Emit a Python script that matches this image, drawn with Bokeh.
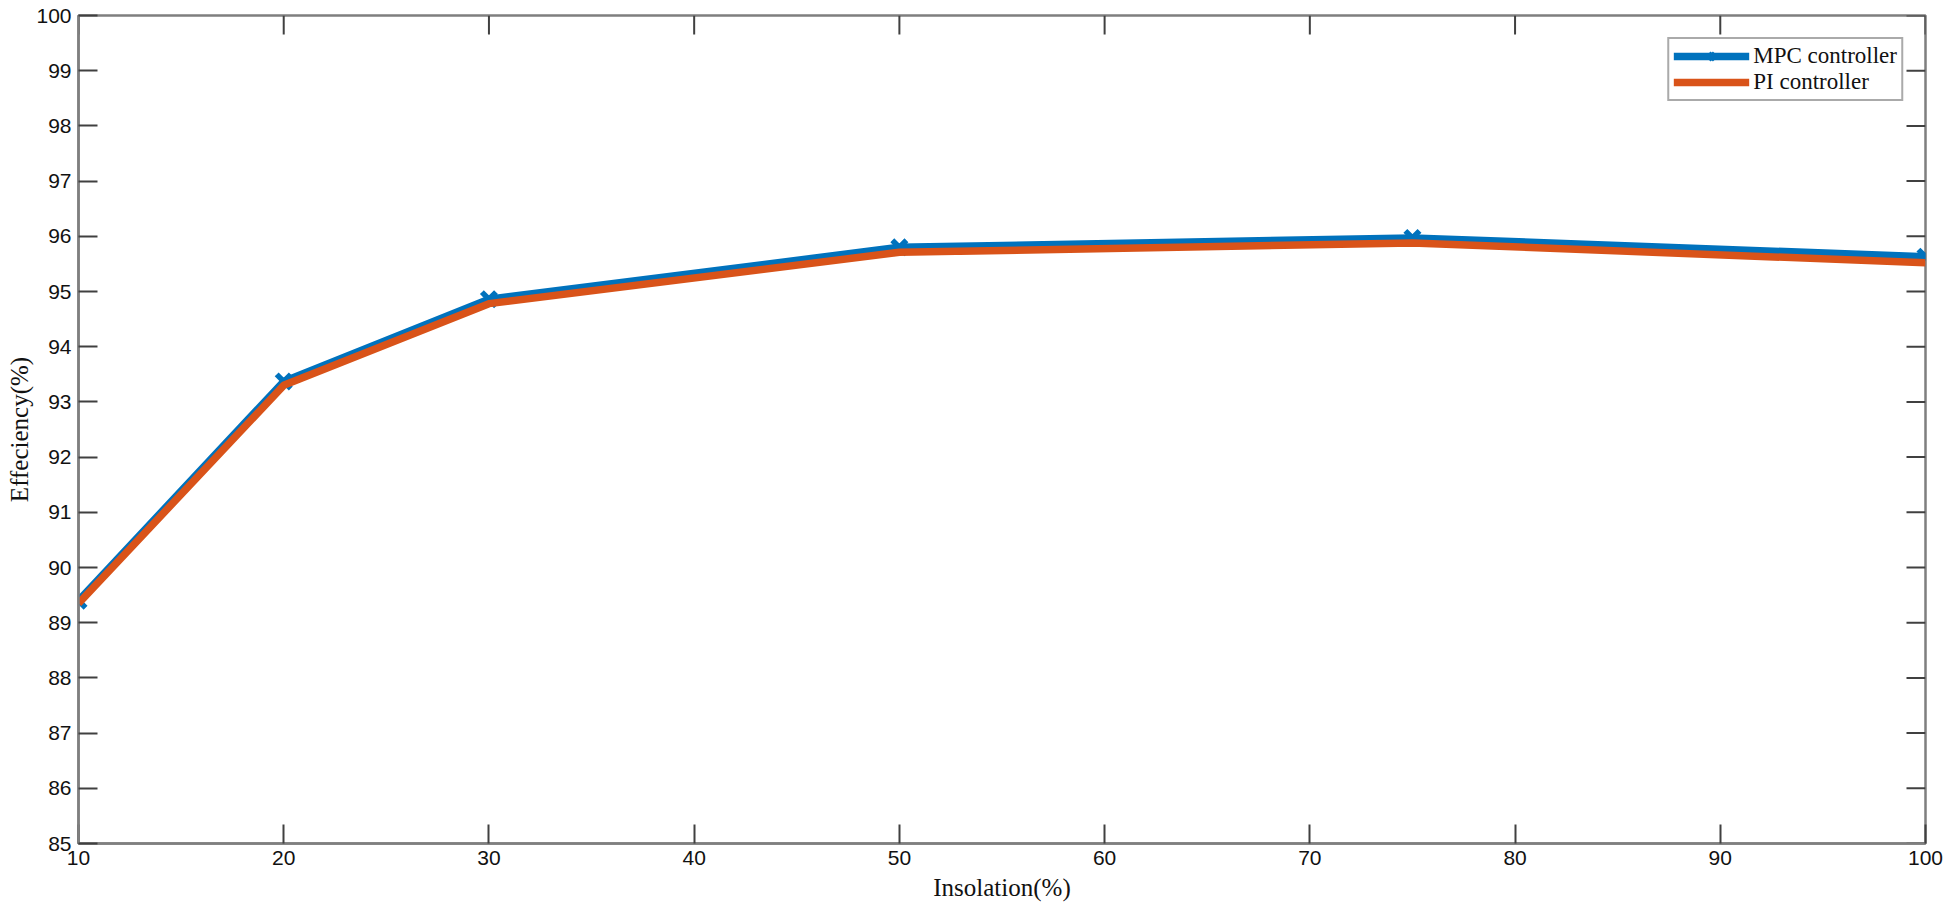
import math
from bokeh.plotting import figure
from bokeh.models import LinearAxis, Range1d, FixedTicker, Legend, LegendItem
from bokeh.embed import file_html
from bokeh.resources import INLINE

insolation = [10, 20, 30, 50, 75, 100]
mpc_eff = [89.40, 93.37, 94.86, 95.80, 95.97, 95.63]
pi_eff = [89.35, 93.30, 94.78, 95.71, 95.88, 95.52]
x_ticks = [10, 20, 30, 40, 50, 60, 70, 80, 90, 100]
y_ticks = list(range(85, 101))
x_min, x_max = 10, 100
y_min, y_max = 85, 100

BLUE = "#0072BD"
ORANGE = "#D95319"
FRAME = "#7f7f7f"
TICK = "#404040"
SANS = "Liberation Sans"
SERIF = "Liberation Serif"

p = figure(width=1950, height=915, output_backend="svg", toolbar_location=None,
           x_range=Range1d(x_min, x_max), y_range=Range1d(y_min, y_max),
           x_axis_type=None, y_axis_type=None,
           min_border_left=78, min_border_right=25, min_border_top=15, min_border_bottom=72)
p.outline_line_color = FRAME
p.outline_line_width = 2.5
p.background_fill_color = "white"
p.border_fill_color = "white"

def make_axis(ticks, label_text, label_standoff):
    ax = LinearAxis(ticker=FixedTicker(ticks=ticks))
    ax.axis_line_color = FRAME
    ax.axis_line_width = 2.5
    ax.major_tick_in = 19
    ax.major_tick_out = 0
    ax.major_tick_line_color = TICK
    ax.major_tick_line_width = 2
    ax.minor_tick_line_color = None
    ax.major_label_text_font = SANS
    ax.major_label_text_font_size = "21px"
    ax.major_label_text_color = "#111111"
    ax.major_label_standoff = 7
    ax.axis_label = label_text
    ax.axis_label_text_font = SERIF
    ax.axis_label_text_font_size = "25px"
    ax.axis_label_text_font_style = "normal"
    ax.axis_label_text_color = "#111111"
    ax.axis_label_standoff = label_standoff
    return ax

p.add_layout(make_axis(x_ticks, "Insolation(%)", 6), "below")
p.add_layout(make_axis(y_ticks, "Effeciency(%)", 0), "left")

# inward ticks on the top and right edges of the box
p.ray(x=x_ticks, y=[y_max] * len(x_ticks), length=19, length_units="screen",
      angle=-math.pi / 2, line_color=TICK, line_width=2)
p.ray(x=[x_max] * len(y_ticks), y=y_ticks, length=19, length_units="screen",
      angle=math.pi, line_color=TICK, line_width=2)

p.xgrid.ticker = FixedTicker(ticks=x_ticks)
p.ygrid.ticker = FixedTicker(ticks=y_ticks)
p.xgrid.grid_line_color = "#e3e3e3"
p.ygrid.grid_line_color = "#e3e3e3"
p.xgrid.grid_line_width = 1.5
p.ygrid.grid_line_width = 1.5

mpc_line = p.line(insolation, mpc_eff, line_color=BLUE, line_width=7.5)
mpc_mark = p.scatter(insolation, mpc_eff, marker="x", size=20, line_color=BLUE, line_width=5.5)
pi_line = p.line(insolation, pi_eff, line_color=ORANGE, line_width=7.5)

legend = Legend(items=[LegendItem(label="MPC controller", renderers=[mpc_line, mpc_mark]),
                       LegendItem(label="PI controller", renderers=[pi_line])],
                location="top_right")
legend.margin = 22
legend.padding = 4
legend.spacing = 0
legend.glyph_width = 76
legend.glyph_height = 22
legend.label_standoff = 4
legend.label_text_font = SERIF
legend.label_text_font_size = "23px"
legend.label_text_color = "#111111"
legend.label_height = 22
legend.border_line_color = "#555555"
legend.border_line_width = 2
legend.background_fill_alpha = 1
p.add_layout(legend)

open("out.html", "w").write(file_html(p, INLINE))
